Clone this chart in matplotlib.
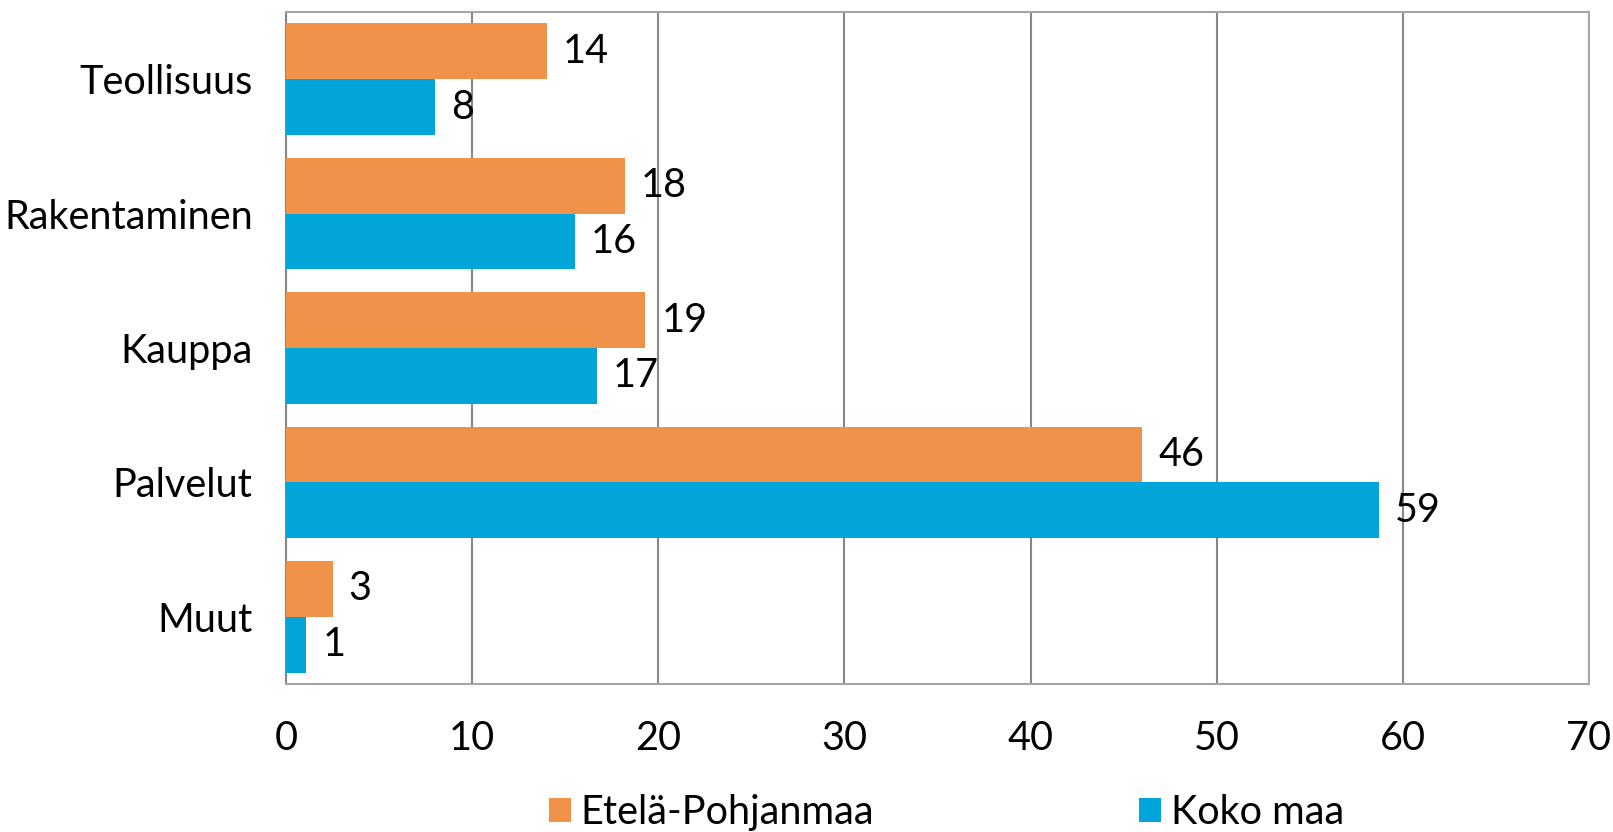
import matplotlib
matplotlib.use("Agg")
import matplotlib.pyplot as plt
import numpy as np

categories = ["Teollisuus", "Rakentaminen", "Kauppa", "Palvelut", "Muut"]
etela_pohjanmaa = [14.0, 18.2, 19.3, 46.0, 2.5]
koko_maa = [8.0, 15.5, 16.7, 58.7, 1.1]
etela_labels = ["14", "18", "19", "46", "3"]
koko_labels = ["8", "16", "17", "59", "1"]
series_names = ["Etelä-Pohjanmaa", "Koko maa"]
xticks = [0, 10, 20, 30, 40, 50, 60, 70]

plt.rcParams['font.family'] = ['Lato', 'DejaVu Sans']

fig = plt.figure(figsize=(16.13, 8.32), dpi=100)
ax = fig.add_axes([0.1773, 0.1779, 0.8078, 0.8077])

orange = "#F1924B"
blue = "#02A5D9"
h = 0.415
y = np.arange(len(categories))
b1 = ax.barh(y - h / 2, etela_pohjanmaa, height=h, color=orange, label=series_names[0], zorder=3)
b2 = ax.barh(y + h / 2, koko_maa, height=h, color=blue, label=series_names[1], zorder=3)

fs = 28.5
for bars, labs in ((b1, etela_labels), (b2, koko_labels)):
    for rect, lab in zip(bars, labs):
        ax.annotate(lab, (rect.get_width(), rect.get_y() + rect.get_height() / 2),
                    xytext=(11.5, 0), textcoords="offset points",
                    ha="left", va="center", fontsize=fs, color="black", zorder=4)

ax.set_ylim(len(categories) - 0.5, -0.5)
ax.set_xlim(0, 70)
ax.set_xticks(xticks)
ax.set_xticklabels([str(t) for t in xticks])
ax.set_yticks(y)
ax.set_yticklabels(categories)
ax.tick_params(axis="both", length=0, labelsize=fs, colors="black")
ax.tick_params(axis="y", pad=24)
ax.tick_params(axis="x", pad=26)
ax.grid(axis="x", color="#878787", linewidth=1.5, zorder=0)
for s in ax.spines.values():
    s.set_color("#A6A6A6")
    s.set_linewidth(1.5)
ax.spines["left"].set_color("#878787")

fig.legend(handles=[b1, b2], labels=series_names, loc="lower left",
           bbox_to_anchor=(547 / 1613, -0.001), ncol=2, frameon=False, fontsize=fs,
           handlelength=0.55, handleheight=0.55, handletextpad=0.25,
           columnspacing=6.7, borderaxespad=0.0, borderpad=0.05)

fig.savefig("out.png", dpi=100)
